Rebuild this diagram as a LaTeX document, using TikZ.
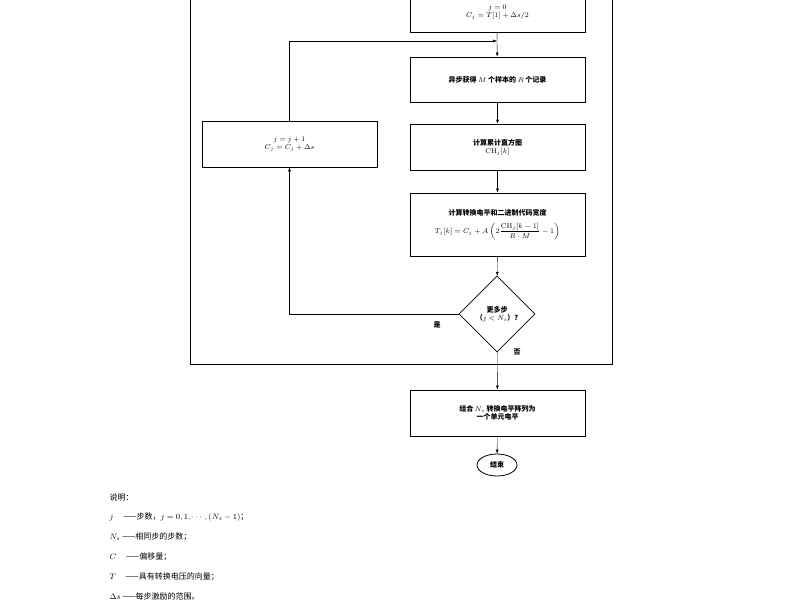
\documentclass[tikz,border=0pt]{standalone}
\usepackage{fontspec}
\usepackage{amsmath}
\newfontfamily\cjk{Noto Sans CJK SC}
\usetikzlibrary{arrows.meta,shapes.geometric}
\tikzset{
  box/.style={draw, thick, minimum width=175pt, inner sep=0pt, align=center, font=\cjk\bfseries\scriptsize},
  flow/.style={-{Latex[length=4pt,width=3pt]}, thin},
  note/.style={anchor=west, font=\cjk\footnotesize}}
\begin{document}
\begin{tikzpicture}[x=1pt,y=-1pt]
\useasboundingbox (0,0) rectangle (800,600);
% outer frame
\draw[thick] (190,-10) rectangle (612,364);
\node[box, minimum height=40pt] (init) at (497.5,12) {$j=0$\\$C_j=T[1]+\Delta s/2$};
\node[box, minimum height=45pt] (rec) at (497.5,79.5) {异步获得 $M$ 个样本的 $R$ 个记录};
\node[box, minimum height=46pt] (hist) at (497.5,147) {计算累计直方图\\$\mathrm{CH}_j[k]$};
\node[box, minimum height=63pt] (lev) at (497.5,224.5) {计算转换电平和二进制代码宽度\\[6pt]
  $T_j[k]=C_j+A\left(2\dfrac{\mathrm{CH}_j[k-1]}{R\cdot M}-1\right)$};
\node[draw, thick, diamond, aspect=1, minimum size=76pt, inner sep=0pt, align=center, font=\cjk\bfseries\scriptsize] (more) at (497,314) {更多步\\（$j<N_s$）?};
\node[box, minimum height=46pt] (inc) at (289.5,144) {$j=j+1$\\$C_j=C_j+\Delta s$};
\node[box, minimum height=46pt] (comb) at (497.5,413) {组合 $N_s$ 转换电平阵列为\\一个单元电平};
\node[draw, thick, ellipse, minimum width=40pt, minimum height=22pt, inner sep=0pt, font=\cjk\bfseries\scriptsize] (end) at (497,465) {结束};
\coordinate (join) at (497,41);
\node[font=\cjk\bfseries\scriptsize] (yes) at (437,325) {是};
\node[font=\cjk\bfseries\scriptsize] (no) at (517,352) {否};
% connectors
\draw[thin] (init) -- (join);
\draw[flow] (join) -- (rec);
\draw[flow] (inc.north) |- (join);
\draw[flow] (rec) -- (hist);
\draw[flow] (hist) -- (lev);
\draw[flow] (lev) -- (more);
\draw[flow] (more.west) -| (inc.south);
\draw[flow] (more) -- (comb);
\draw[flow] (comb) -- (end);
% legend
\node[note] (n0) at (106,497) {说明：};
\node[note] (n1) at (106,517) {$j$ \quad ——步数，$j=0,1,\cdots,(N_s-1)$；};
\node[note] (n2) at (106,537) {$N_s$ ——相同步的步数；};
\node[note] (n3) at (106,557) {$C$ \quad ——偏移量；};
\node[note] (n4) at (106,577) {$T$ \quad ——具有转换电压的向量；};
\node[note] (n5) at (106,596) {$\Delta s$ ——每步激励的范围。};
\end{tikzpicture}
\end{document}
